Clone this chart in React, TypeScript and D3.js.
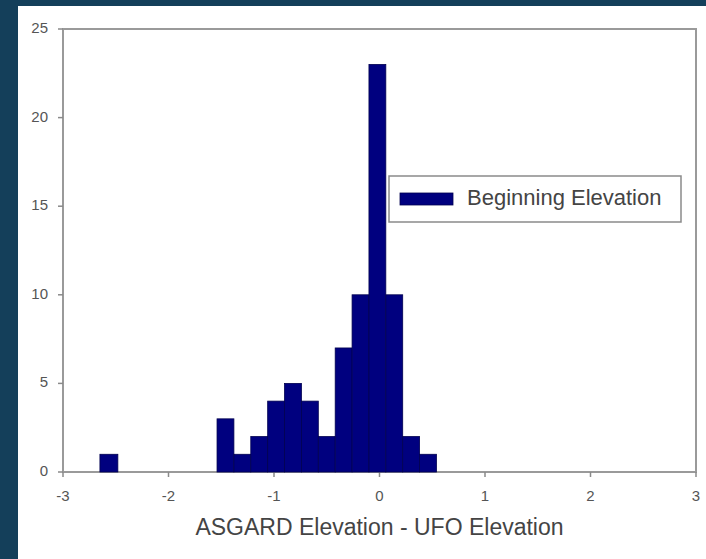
import * as d3 from 'd3';
import { useEffect, useRef } from 'react';

// histogram bins (lower edge, upper edge)
const binLow = [-2.65, -1.54, -1.38, -1.22, -1.06, -0.9, -0.74, -0.58, -0.42, -0.26, -0.1, 0.06, 0.22, 0.38];
const binHigh = [-2.48, -1.38, -1.22, -1.06, -0.9, -0.74, -0.58, -0.42, -0.26, -0.1, 0.06, 0.22, 0.38, 0.54];
const counts = [1, 3, 1, 2, 4, 5, 4, 2, 7, 10, 23, 10, 2, 1];

const xTicks = [-3, -2, -1, 0, 1, 2, 3];
const yTicks = [0, 5, 10, 15, 20, 25];

const seriesName = 'Beginning Elevation';
const xTitle = 'ASGARD Elevation - UFO Elevation';

export default function App() {
    const width = 706;
    const height = 559;
    const svgRef = useRef<SVGSVGElement>(null);

    const margins = { top: 29, bottom: 87, left: 63, right: 10 };

    const xScale = d3.scaleLinear().domain([-3, 3]).range([margins.left, width - margins.right]);
    const yScale = d3.scaleLinear().domain([0, 25]).range([height - margins.bottom, margins.top]);

    useEffect(() => {
        const svg = d3.select(svgRef.current);
        svg.selectAll('.bars').remove();

        const bins = counts.map((c, i) => ({ lo: binLow[i], hi: binHigh[i], c }));

        svg.append('g')
            .attr('class', 'bars')
            .selectAll('rect')
            .data(bins)
            .enter()
            .append('rect')
            .attr('x', (d) => xScale(d.lo))
            .attr('y', (d) => yScale(d.c))
            .attr('width', (d) => xScale(d.hi) - xScale(d.lo))
            .attr('height', (d) => yScale(0) - yScale(d.c))
            .attr('fill', '#00007f')
            .attr('stroke', '#000050')
            .attr('stroke-width', 0.8);
    }, []);

    const x0 = margins.left;
    const x1 = width - margins.right;
    const y0 = height - margins.bottom;
    const y1 = margins.top;

    return (
        <svg
            ref={svgRef}
            width={width}
            height={height}
            style={{ position: 'absolute', left: 0, top: 0, fontFamily: 'Liberation Sans, Arial, sans-serif' }}
        >
            <rect x={0} y={0} width={width} height={height} fill='#143f5a' />
            <rect x={18} y={6} width={width - 18} height={height - 6} fill='#ffffff' />

            {/* plot frame */}
            <rect x={x0} y={y1} width={x1 - x0} height={y0 - y1} fill='none' stroke='#9a9a9a' strokeWidth={2} />

            {yTicks.map((t) => (
                <g key={t} transform={`translate(0, ${yScale(t)})`}>
                    <line x1={x0 - 5} x2={x0} stroke='#8a8a8a' strokeWidth={1.5} />
                    <text x={x0 - 15} textAnchor='end' dominantBaseline='middle' fontSize={15} fill='#555'>
                        {t}
                    </text>
                </g>
            ))}

            {xTicks.map((t) => (
                <g key={t} transform={`translate(${xScale(t)}, 0)`}>
                    <line y1={y0} y2={y0 + 5} stroke='#8a8a8a' strokeWidth={1.5} />
                    <text y={y0 + 25} textAnchor='middle' dominantBaseline='middle' fontSize={15} fill='#555'>
                        {t}
                    </text>
                </g>
            ))}

            <text x={(x0 + x1) / 2} y={529} textAnchor='middle' dominantBaseline='middle' fontSize={23} fill='#444'>
                {xTitle}
            </text>

            {/* legend */}
            <g transform='translate(389, 176)'>
                <rect width={292} height={46} fill='#ffffff' stroke='#8a8a8a' strokeWidth={1.5} />
                <rect x={11} y={17} width={53} height={12} fill='#00007f' stroke='#000050' strokeWidth={0.8} />
                <text x={78} y={23} dominantBaseline='middle' fontSize={22} fill='#444'>
                    {seriesName}
                </text>
            </g>
        </svg>
    );
}
